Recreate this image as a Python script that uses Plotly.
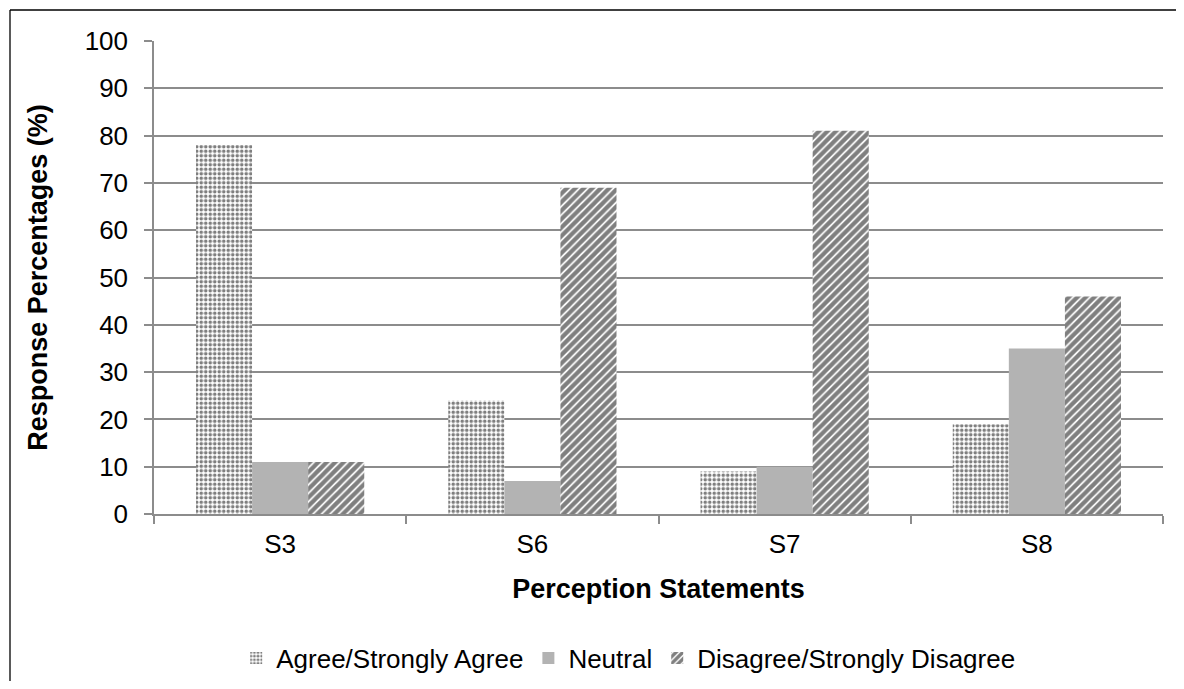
import plotly.graph_objects as go

statements = ["S3", "S6", "S7", "S8"]
agree = [78, 24, 9, 19]
neutral = [11, 7, 10, 35]
disagree = [11, 69, 81, 46]
y_ticks = list(range(0, 101, 10))

FONT = "Liberation Sans, Arial, sans-serif"
GRID = "#8c8c8c"

# figure sized to fit inside the 8px page margins without scrollbars
FIG_W, FIG_H = 1168, 673
L, T, W, H = 146, 33, 1009, 473

fig = go.Figure()
fig.add_trace(go.Bar(
    x=statements, y=agree, name="Agree/Strongly Agree",
    marker=dict(color="white", line=dict(width=0),
                pattern=dict(shape=".", fgcolor="black", bgcolor="white", size=4.5, solidity=0.5)),
))
fig.add_trace(go.Bar(
    x=statements, y=neutral, name="Neutral",
    marker=dict(color="#b3b3b3", line=dict(width=0)),
))
fig.add_trace(go.Bar(
    x=statements, y=disagree, name="Disagree/Strongly Disagree",
    marker=dict(color="white", line=dict(width=0),
                pattern=dict(shape="/", fgcolor="black", bgcolor="white", size=6, solidity=0.7)),
))

# outer chart frame: only its top and left edges are inside the picture
top_y = (T + H - 2) / H
left_x = (2 - L) / W
fig.add_shape(type="line", xref="paper", yref="paper",
              x0=left_x, x1=left_x, y0=(T + H - 720) / H, y1=top_y,
              line=dict(color="black", width=1.3), layer="below")
fig.add_shape(type="line", xref="paper", yref="paper",
              x0=left_x, x1=(1220 - L) / W, y0=top_y, y1=top_y,
              line=dict(color="black", width=1.3), layer="below")

fig.update_layout(
    width=FIG_W, height=FIG_H,
    paper_bgcolor="white", plot_bgcolor="white",
    font=dict(family=FONT, size=26, color="black"),
    barmode="group", bargap=0.333, bargroupgap=0,
    margin=dict(l=L, r=FIG_W - L - W, t=T, b=FIG_H - T - H, autoexpand=False),
    showlegend=True,
    legend=dict(orientation="h", x=0.47, xanchor="center", y=(T + H - 650) / H, yanchor="middle",
                font=dict(size=26), itemwidth=30, traceorder="normal"),
    xaxis=dict(
        title=dict(text="<b>Perception Statements</b>", font=dict(size=27), standoff=21),
        showline=True, linecolor=GRID, linewidth=1.5, automargin=False,
        ticks="outside", tickson="boundaries", ticklen=8, tickcolor=GRID, tickwidth=1.5,
        ticklabelstandoff=6, tickfont=dict(size=26),
    ),
    yaxis=dict(
        title=dict(text="<b>Response Percentages (%)</b>", font=dict(size=27), standoff=29),
        range=[0, 100], tickvals=y_ticks, automargin=False,
        showline=True, linecolor=GRID, linewidth=1.5,
        showgrid=True, gridcolor=GRID, gridwidth=1.5,
        ticks="outside", ticklen=8, tickcolor=GRID, tickwidth=1.5,
        ticklabelstandoff=11, tickfont=dict(size=26), zeroline=False,
    ),
)

fig.write_html("out.html")
